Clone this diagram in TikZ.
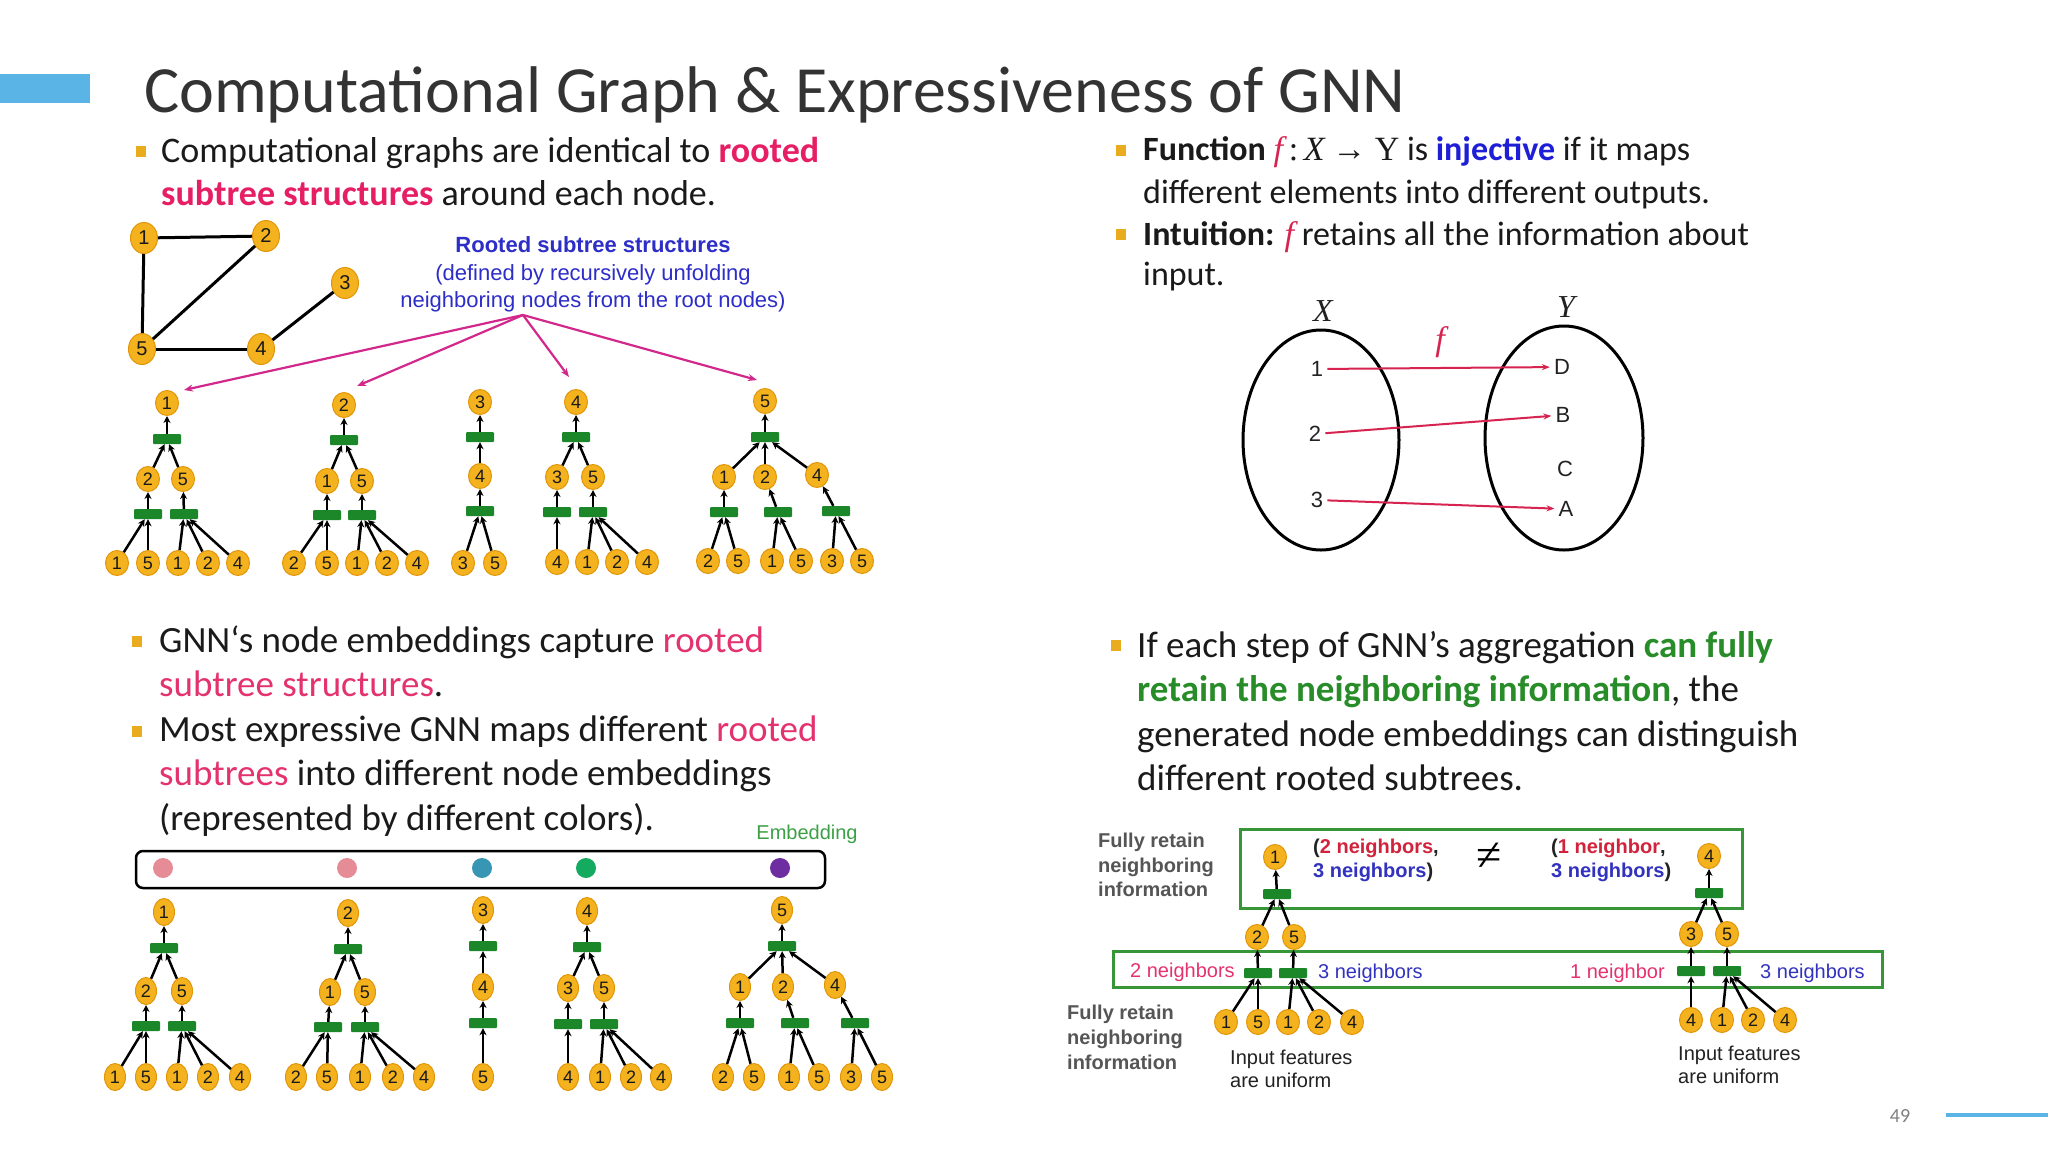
\documentclass[tikz,border=0pt]{standalone}
\usepackage{fontspec}
\setmainfont{Carlito}
\newfontfamily\arial{Liberation Sans}
\newfontfamily\tnr{Liberation Serif}
\usetikzlibrary{shapes.geometric,arrows.meta,calc}
\definecolor{nodefill}{RGB}{244,178,30}
\definecolor{nodeedge}{RGB}{225,150,10}
\definecolor{aggreen}{RGB}{28,135,40}
\definecolor{boxgreen}{RGB}{55,150,55}
\definecolor{txt}{RGB}{26,26,26}
\definecolor{titlecol}{RGB}{51,51,51}
\definecolor{rootpink}{RGB}{230,30,100}
\definecolor{lightpink}{RGB}{228,50,110}
\definecolor{injblue}{RGB}{30,30,215}
\definecolor{retgreen}{RGB}{40,140,40}
\definecolor{bulletcol}{RGB}{232,172,30}
\definecolor{accent}{RGB}{91,180,230}
\definecolor{labblue}{RGB}{45,45,200}
\definecolor{magarrow}{RGB}{210,40,140}
\definecolor{fcol}{RGB}{215,35,80}
\definecolor{nbred}{RGB}{210,35,60}
\definecolor{nbblue}{RGB}{50,50,190}
\definecolor{grayt}{RGB}{85,85,85}
\definecolor{embgreen}{RGB}{60,160,70}
\definecolor{dotpink}{RGB}{230,140,150}
\definecolor{dotteal}{RGB}{55,150,180}
\definecolor{dotgreen}{RGB}{20,170,95}
\definecolor{dotpurple}{RGB}{110,45,160}
\definecolor{lab}{RGB}{34,34,34}
\tikzset{
 nd/.style={ellipse, fill=nodefill, draw=nodeedge, line width=1pt, minimum width=23pt, minimum height=25pt, inner sep=0pt, font=\fontsize{18}{18}\selectfont\arial, text=txt},
 ndb/.style={nd, minimum width=21pt, minimum height=27pt},
 gnd/.style={nd, minimum width=27pt, minimum height=31pt, font=\fontsize{20}{20}\selectfont\arial},
 agg/.style={rectangle, fill=aggreen, minimum width=28pt, minimum height=10pt, inner sep=0pt, rounded corners=1pt},
 arr/.style={-{Stealth[length=7pt,width=7pt]}, line width=2.5pt, black},
 gedge/.style={line width=3pt, black},
 pk/.style={-{Stealth[length=9pt,width=7pt]}, line width=2.2pt, magarrow},
 fa/.style={-{Stealth[length=8pt,width=6pt]}, line width=2pt, fcol},
 bul/.style={rectangle, fill=bulletcol, minimum width=10pt, minimum height=11pt, inner sep=0pt},
 bodyA/.style={anchor=base west, inner sep=0pt, font=\fontsize{36}{43}\selectfont, text=txt},
 bodyB/.style={anchor=base west, inner sep=0pt, font=\fontsize{34}{41}\selectfont, text=txt},
 bodyC/.style={anchor=base west, inner sep=0pt, font=\fontsize{37}{44}\selectfont, text=txt},
 blab/.style={anchor=base, inner sep=0pt, font=\fontsize{22}{27}\selectfont\arial, text=labblue},
 flab/.style={inner sep=4pt, font=\fontsize{22}{22}\selectfont\arial, text=lab},
 frt/.style={anchor=base west, inner sep=0pt, font=\fontsize{20}{24}\selectfont\arial\bfseries, text=grayt},
 nbt/.style={anchor=base west, inner sep=0pt, font=\fontsize{20}{24}\selectfont\arial},
 inp/.style={anchor=base west, inner sep=0pt, font=\fontsize{20}{24}\selectfont\arial, text=lab},
 gbox/.style={draw=boxgreen, line width=3pt},
 dot/.style={circle, minimum size=20pt, inner sep=0pt}
}
\begin{document}
\begin{tikzpicture}[x=1pt,y=-1pt]
\fill[white] (0,0) rectangle (2048,1152);
\useasboundingbox (0,0) rectangle (2048,1152);
% header
\fill[accent] (0,74) rectangle (90,103);
\node[anchor=base west, inner sep=0pt, font=\fontsize{66}{66}\selectfont, text=titlecol] (title) at (144,112) {Computational Graph \& Expressiveness of GNN};
\node[inner sep=0pt, font=\fontsize{20}{20}\selectfont, text=gray] (pnum) at (1900,1116) {49};
\coordinate (lineS) at (1946,1115);
\coordinate (lineE) at (2048,1115);
\draw[accent, line width=4pt] (lineS) -- (lineE);

% top-left text
\node[bul] (bu1) at (141,151) {};
\node[bodyA] (tl1) at (161,162) {Computational graphs are identical to {\bfseries\color{rootpink}rooted}};
\node[bodyA] (tl2) at (161,205) {{\bfseries\color{rootpink}subtree structures} around each node.};

% graph
\node[gnd] (g1) at (144,238) {1};
\node[gnd] (g2) at (266,236) {2};
\node[gnd] (g3) at (345,283) {3};
\node[gnd] (g5) at (142,349) {5};
\node[gnd] (g4) at (261,349) {4};
\draw[gedge] (g1) -- (g2);
\draw[gedge] (g1) -- (g5);
\draw[gedge] (g2) -- (g5);
\draw[gedge] (g5) -- (g4);
\draw[gedge] (g4) -- (g3);

% rooted subtree label
\node[blab, font=\fontsize{22}{27}\selectfont\arial\bfseries] (rl1) at (593,252) {Rooted subtree structures};
\node[blab] (rl2) at (593,280) {(defined by recursively unfolding};
\node[blab] (rl3) at (593,307) {neighboring nodes from the root nodes)};
\coordinate (src) at (523,315);

% ---------- top trees ----------
% tree 1
\node[nd] (a1r) at (167,403) {1};
\node[agg] (a1g) at (167,439) {};
\node[nd] (a1m1) at (148,479) {2};
\node[nd] (a1m2) at (183,479) {5};
\node[agg] (a1g1) at (148,514) {};
\node[agg] (a1g2) at (184,514) {};
\foreach \x/\t [count=\i] in {117/1,148/5,178/1,208/2,238/4} {\node[nd] (a1l\i) at (\x,563) {\t};}
\draw[arr] (a1g) -- (a1r); \draw[arr] (a1m1) -- (a1g); \draw[arr] (a1m2) -- (a1g);
\draw[arr] (a1g1) -- (a1m1); \draw[arr] (a1g2) -- (a1m2);
\foreach \i in {1,2} {\draw[arr] (a1l\i) -- (a1g1);}
\foreach \i in {3,4,5} {\draw[arr] (a1l\i) -- (a1g2);}
% tree 2
\node[nd] (a2r) at (344,405) {2};
\node[agg] (a2g) at (344,440) {};
\node[nd] (a2m1) at (327,481) {1};
\node[nd] (a2m2) at (362,481) {5};
\node[agg] (a2g1) at (327,515) {};
\node[agg] (a2g2) at (362,515) {};
\foreach \x/\t [count=\i] in {294/2,327/5,357/1,387/2,417/4} {\node[nd] (a2l\i) at (\x,563) {\t};}
\draw[arr] (a2g) -- (a2r); \draw[arr] (a2m1) -- (a2g); \draw[arr] (a2m2) -- (a2g);
\draw[arr] (a2g1) -- (a2m1); \draw[arr] (a2g2) -- (a2m2);
\foreach \i in {1,2} {\draw[arr] (a2l\i) -- (a2g1);}
\foreach \i in {3,4,5} {\draw[arr] (a2l\i) -- (a2g2);}
% tree 3
\node[nd] (a3r) at (480,402) {3};
\node[agg] (a3g) at (480,437) {};
\node[nd] (a3m1) at (480,476) {4};
\node[agg] (a3g1) at (480,511) {};
\node[nd] (a3l1) at (463,563) {3};
\node[nd] (a3l2) at (495,563) {5};
\draw[arr] (a3g) -- (a3r); \draw[arr] (a3m1) -- (a3g); \draw[arr] (a3g1) -- (a3m1);
\draw[arr] (a3l1) -- (a3g1); \draw[arr] (a3l2) -- (a3g1);
% tree 4
\node[nd] (a4r) at (576,402) {4};
\node[agg] (a4g) at (576,437) {};
\node[nd] (a4m1) at (557,477) {3};
\node[nd] (a4m2) at (593,477) {5};
\node[agg] (a4g1) at (557,512) {};
\node[agg] (a4g2) at (593,512) {};
\foreach \x/\t [count=\i] in {557/4,587/1,617/2,647/4} {\node[nd] (a4l\i) at (\x,562) {\t};}
\draw[arr] (a4g) -- (a4r); \draw[arr] (a4m1) -- (a4g); \draw[arr] (a4m2) -- (a4g);
\draw[arr] (a4g1) -- (a4m1); \draw[arr] (a4g2) -- (a4m2);
\draw[arr] (a4l1) -- (a4g1);
\foreach \i in {2,3,4} {\draw[arr] (a4l\i) -- (a4g2);}
% tree 5
\node[nd] (a5r) at (765,401) {5};
\node[agg] (a5g) at (765,437) {};
\node[nd] (a5m1) at (724,477) {1};
\node[nd] (a5m2) at (765,477) {2};
\node[nd] (a5m3) at (817,475) {4};
\node[agg] (a5g1) at (724,512) {};
\node[agg] (a5g2) at (778,512) {};
\node[agg] (a5g3) at (836,511) {};
\foreach \x/\t [count=\i] in {708/2,738/5,772/1,801/5,832/3,862/5} {\node[nd] (a5l\i) at (\x,561) {\t};}
\draw[arr] (a5g) -- (a5r);
\foreach \i in {1,2,3} {\draw[arr] (a5m\i) -- (a5g); \draw[arr] (a5g\i) -- (a5m\i);}
\draw[arr] (a5l1) -- (a5g1); \draw[arr] (a5l2) -- (a5g1);
\draw[arr] (a5l3) -- (a5g2); \draw[arr] (a5l4) -- (a5g2);
\draw[arr] (a5l5) -- (a5g3); \draw[arr] (a5l6) -- (a5g3);

% magenta arrows
\draw[pk] (src) -- ($(a1r)+(17,-13)$);
\draw[pk] (src) -- ($(a2r)+(13,-19)$);
\draw[pk] (src) -- ($(a4r)+(-7,-25)$);
\draw[pk] (src) -- ($(a5r)+(-8,-21)$);

% ---------- bottom-left text ----------
\node[bul] (bu3) at (137,641) {};
\node[bul] (bu4) at (137,731) {};
\node[bodyC] (bl1) at (159,652) {GNN‘s node embeddings capture {\color{lightpink}rooted}};
\node[bodyC] (bl2) at (159,696) {{\color{lightpink}subtree structures}.};
\node[bodyC] (bl3) at (159,741) {Most expressive GNN maps different {\color{lightpink}rooted}};
\node[bodyC] (bl4) at (159,785) {{\color{lightpink}subtrees} into different node embeddings};
\node[bodyC] (bl5) at (159,830) {(represented by different colors).};

% embedding box
\node[anchor=base, inner sep=0pt, font=\fontsize{20}{20}\selectfont\arial, text=embgreen] (emb) at (807,839) {Embedding};
\draw[line width=2.5pt, rounded corners=7pt] (136,851) rectangle (825,888);
\node[dot, fill=dotpink] (e1) at (163,868) {};
\node[dot, fill=dotpink] (e2) at (347,868) {};
\node[dot, fill=dotteal] (e3) at (482,868) {};
\node[dot, fill=dotgreen] (e4) at (586,868) {};
\node[dot, fill=dotpurple] (e5) at (780,868) {};

% ---------- bottom trees ----------
% tree 1
\node[ndb] (b1r) at (164,912) {1};
\node[agg] (b1g) at (164,948) {};
\node[ndb] (b1m1) at (146,991) {2};
\node[ndb] (b1m2) at (182,991) {5};
\node[agg] (b1g1) at (146,1026) {};
\node[agg] (b1g2) at (182,1026) {};
\foreach \x/\t [count=\i] in {115/1,146/5,177/1,208/2,240/4} {\node[ndb] (b1l\i) at (\x,1077) {\t};}
\draw[arr] (b1g) -- (b1r); \draw[arr] (b1m1) -- (b1g); \draw[arr] (b1m2) -- (b1g);
\draw[arr] (b1g1) -- (b1m1); \draw[arr] (b1g2) -- (b1m2);
\foreach \i in {1,2} {\draw[arr] (b1l\i) -- (b1g1);}
\foreach \i in {3,4,5} {\draw[arr] (b1l\i) -- (b1g2);}
% tree 2
\node[ndb] (b2r) at (348,913) {2};
\node[agg] (b2g) at (348,949) {};
\node[ndb] (b2m1) at (330,992) {1};
\node[ndb] (b2m2) at (365,992) {5};
\node[agg] (b2g1) at (328,1027) {};
\node[agg] (b2g2) at (365,1027) {};
\foreach \x/\t [count=\i] in {296/2,327/5,360/1,393/2,424/4} {\node[ndb] (b2l\i) at (\x,1077) {\t};}
\draw[arr] (b2g) -- (b2r); \draw[arr] (b2m1) -- (b2g); \draw[arr] (b2m2) -- (b2g);
\draw[arr] (b2g1) -- (b2m1); \draw[arr] (b2g2) -- (b2m2);
\foreach \i in {1,2} {\draw[arr] (b2l\i) -- (b2g1);}
\foreach \i in {3,4,5} {\draw[arr] (b2l\i) -- (b2g2);}
% tree 3
\node[ndb] (b3r) at (483,910) {3};
\node[agg] (b3g) at (483,946) {};
\node[ndb] (b3m1) at (483,987) {4};
\node[agg] (b3g1) at (483,1023) {};
\node[ndb] (b3l1) at (483,1077) {5};
\draw[arr] (b3g) -- (b3r); \draw[arr] (b3m1) -- (b3g); \draw[arr] (b3g1) -- (b3m1);
\draw[arr] (b3l1) -- (b3g1);
% tree 4
\node[ndb] (b4r) at (587,911) {4};
\node[agg] (b4g) at (587,947) {};
\node[ndb] (b4m1) at (568,988) {3};
\node[ndb] (b4m2) at (604,988) {5};
\node[agg] (b4g1) at (568,1024) {};
\node[agg] (b4g2) at (604,1024) {};
\foreach \x/\t [count=\i] in {568/4,600/1,631/2,661/4} {\node[ndb] (b4l\i) at (\x,1077) {\t};}
\draw[arr] (b4g) -- (b4r); \draw[arr] (b4m1) -- (b4g); \draw[arr] (b4m2) -- (b4g);
\draw[arr] (b4g1) -- (b4m1); \draw[arr] (b4g2) -- (b4m2);
\draw[arr] (b4l1) -- (b4g1);
\foreach \i in {2,3,4} {\draw[arr] (b4l\i) -- (b4g2);}
% tree 5
\node[ndb] (b5r) at (782,910) {5};
\node[agg] (b5g) at (782,946) {};
\node[ndb] (b5m1) at (740,987) {1};
\node[ndb] (b5m2) at (783,987) {2};
\node[ndb] (b5m3) at (835,985) {4};
\node[agg] (b5g1) at (740,1023) {};
\node[agg] (b5g2) at (795,1023) {};
\node[agg] (b5g3) at (855,1023) {};
\foreach \x/\t [count=\i] in {723/2,754/5,789/1,819/5,851/3,882/5} {\node[ndb] (b5l\i) at (\x,1077) {\t};}
\draw[arr] (b5g) -- (b5r);
\foreach \i in {1,2,3} {\draw[arr] (b5m\i) -- (b5g); \draw[arr] (b5g\i) -- (b5m\i);}
\draw[arr] (b5l1) -- (b5g1); \draw[arr] (b5l2) -- (b5g1);
\draw[arr] (b5l3) -- (b5g2); \draw[arr] (b5l4) -- (b5g2);
\draw[arr] (b5l5) -- (b5g3); \draw[arr] (b5l6) -- (b5g3);

% ---------- top-right text ----------
\node[bul] (bu2a) at (1121,150) {};
\node[bul] (bu2b) at (1121,234) {};
\node[bodyB] (tr1) at (1143,160) {\textbf{Function} {\tnr\itshape\color{fcol}f}{\tnr\,:\,\itshape X} {\tnr → Y} is {\bfseries\color{injblue}injective} if it maps};
\node[bodyB] (tr2) at (1143,203) {different elements into different outputs.};
\node[bodyB] (tr3) at (1143,245) {\textbf{Intuition:} {\tnr\itshape\color{fcol}f} retains all the information about};
\node[bodyB] (tr4) at (1143,285) {input.};

% function diagram
\node[ellipse, draw, line width=3pt, minimum width=156pt, minimum height=220pt, inner sep=0pt] (setX) at (1321,440) {};
\node[ellipse, draw, line width=3pt, minimum width=158pt, minimum height=224pt, inner sep=0pt] (setY) at (1564,438) {};
\node[font=\fontsize{32}{32}\selectfont\tnr\itshape, text=lab] (lX) at (1323,311) {X};
\node[font=\fontsize{32}{32}\selectfont\tnr\itshape, text=lab] (lY) at (1566,307) {Y};
\node[font=\fontsize{34}{34}\selectfont\tnr\itshape, text=fcol] (lf) at (1440,342) {f};
\node[flab] (x1) at (1317,369) {1};
\node[flab] (x2) at (1315,434) {2};
\node[flab] (x3) at (1317,500) {3};
\node[flab] (yD) at (1562,367) {D};
\node[flab] (yB) at (1563,415) {B};
\node[flab] (yC) at (1565,469) {C};
\node[flab] (yA) at (1566,509) {A};
\draw[fa] (x1) -- (yD);
\draw[fa] (x2) -- (yB);
\draw[fa] (x3) -- (yA);

% ---------- bottom-right text ----------
\node[bul] (bu5) at (1116,645) {};
\node[bodyC] (br1) at (1137,657) {If each step of GNN’s aggregation {\bfseries\color{retgreen}can fully}};
\node[bodyC] (br2) at (1137,701) {{\bfseries\color{retgreen}retain the neighboring information}, the};
\node[bodyC] (br3) at (1137,746) {generated node embeddings can distinguish};
\node[bodyC] (br4) at (1137,790) {different rooted subtrees.};

% boxes
\draw[gbox] (1240,829) rectangle (1742,908);
\draw[gbox] (1113,951) rectangle (1882,987);

\node[frt] (fr1) at (1098,847) {Fully retain};
\node[frt] (fr2) at (1098,872) {neighboring};
\node[frt] (fr3) at (1098,896) {information};
\node[frt] (fr4) at (1067,1019) {Fully retain};
\node[frt] (fr5) at (1067,1044) {neighboring};
\node[frt] (fr6) at (1067,1069) {information};

\node[nbt, font=\fontsize{20}{24}\selectfont\arial\bfseries, text=lab] (n1) at (1313,853) {({\color{nbred}2 neighbors},};
\node[nbt, font=\fontsize{20}{24}\selectfont\arial\bfseries, text=lab] (n2) at (1313,877) {{\color{nbblue}3 neighbors})};
\node[nbt, font=\fontsize{20}{24}\selectfont\arial\bfseries, text=lab] (n3) at (1551,853) {({\color{nbred}1 neighbor},};
\node[nbt, font=\fontsize{20}{24}\selectfont\arial\bfseries, text=lab] (n4) at (1551,877) {{\color{nbblue}3 neighbors})};
\node[font=\fontsize{46}{46}\selectfont\tnr, text=black, inner sep=0pt] (neq) at (1489,857) {≠};
\node[nbt, text=lightpink] (m1) at (1130,977) {2 neighbors};
\node[nbt, text=nbblue] (m2) at (1318,978) {3 neighbors};
\node[nbt, text=lightpink] (m3) at (1570,978) {1 neighbor};
\node[nbt, text=nbblue] (m4) at (1760,978) {3 neighbors};
\node[inp] (in1) at (1230,1064) {Input features};
\node[inp] (in2) at (1230,1087) {are uniform};
\node[inp] (in3) at (1678,1060) {Input features};
\node[inp] (in4) at (1678,1083) {are uniform};

% left tree in right diagram
\node[nd] (c1r) at (1275,857) {1};
\node[agg] (c1g) at (1277,894) {};
\node[nd] (c1m1) at (1257,937) {2};
\node[nd] (c1m2) at (1294,937) {5};
\node[agg] (c1g1) at (1258,973) {};
\node[agg] (c1g2) at (1293,973) {};
\foreach \x/\t [count=\i] in {1226/1,1258/5,1288/1,1319/2,1352/4} {\node[nd] (c1l\i) at (\x,1022) {\t};}
\draw[arr] (c1g) -- (c1r); \draw[arr] (c1m1) -- (c1g); \draw[arr] (c1m2) -- (c1g);
\draw[arr] (c1g1) -- (c1m1); \draw[arr] (c1g2) -- (c1m2);
\foreach \i in {1,2} {\draw[arr] (c1l\i) -- (c1g1);}
\foreach \i in {3,4,5} {\draw[arr] (c1l\i) -- (c1g2);}
% right tree in right diagram
\node[nd] (c2r) at (1709,856) {4};
\node[agg] (c2g) at (1709,893) {};
\node[nd] (c2m1) at (1691,934) {3};
\node[nd] (c2m2) at (1727,934) {5};
\node[agg] (c2g1) at (1691,971) {};
\node[agg] (c2g2) at (1727,971) {};
\foreach \x/\t [count=\i] in {1691/4,1722/1,1753/2,1785/4} {\node[nd] (c2l\i) at (\x,1020) {\t};}
\draw[arr] (c2g) -- (c2r); \draw[arr] (c2m1) -- (c2g); \draw[arr] (c2m2) -- (c2g);
\draw[arr] (c2g1) -- (c2m1); \draw[arr] (c2g2) -- (c2m2);
\draw[arr] (c2l1) -- (c2g1);
\foreach \i in {2,3,4} {\draw[arr] (c2l\i) -- (c2g2);}
\end{tikzpicture}
\end{document}
